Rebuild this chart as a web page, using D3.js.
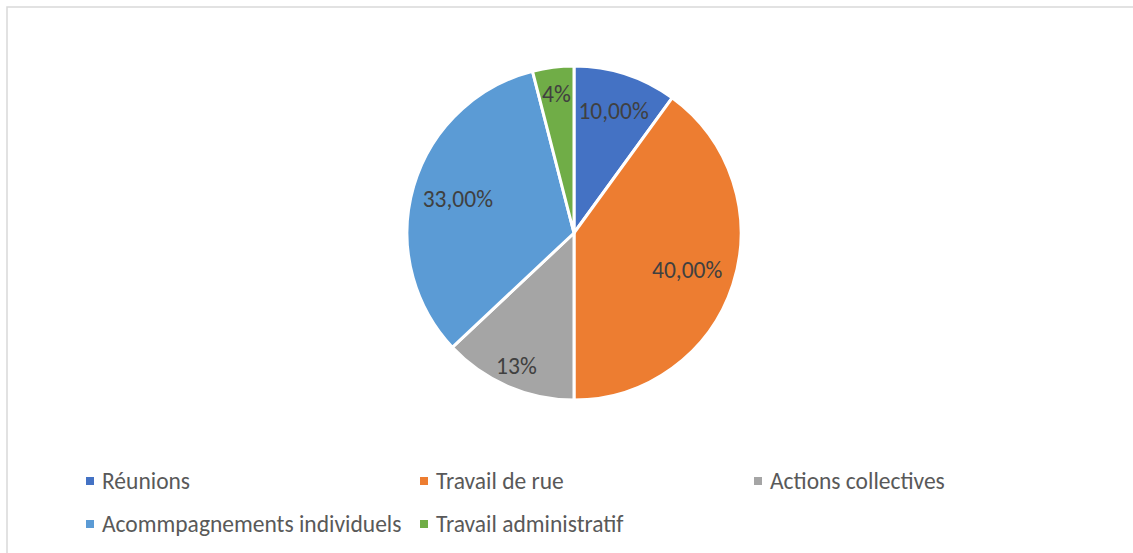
<!DOCTYPE html>
<html>
<head>
<meta charset="utf-8">
<script src="https://cdn.jsdelivr.net/npm/d3@7"></script>
<style>
  html, body { margin: 0; padding: 0; background: #fff; }
  svg { display: block; font-family: Calibri, Carlito, "Open Sans", sans-serif; }
</style>
</head>
<body>
<svg id="chart"></svg>
<script>
'use strict';

const categories = ['Réunions', 'Travail de rue', 'Actions collectives', 'Acommpagnements individuels', 'Travail administratif'];
const values = [10, 40, 13, 33, 4];
const valueLabels = ['10,00%', '40,00%', '13%', '33,00%', '4%'];
const colors = ['#4472c4', '#ed7d31', '#a5a5a5', '#5b9bd5', '#70ad47'];

const width = 1133,
    height = 553,
    cx = 574,
    cy = 233,
    radius = 167,
    fontSize = 23.5,
    // label distance from centre, per slice (Excel best fit placement)
    labelRadii = [128, 119, 145, 121, 140];

let svg = d3.select('#chart').attr('width', width).attr('height', height);

// chart area border
svg.append('rect')
    .attr('x', 7).attr('y', 7)
    .attr('width', width).attr('height', height)
    .attr('fill', '#fff')
    .attr('stroke', '#d9d9d9')
    .attr('stroke-width', 1.5);

let pie = d3.pie().sort(null).value(d => d.value);
let arc = d3.arc().innerRadius(0).outerRadius(radius);

let data = categories.map((c, i) => ({ name: c, value: values[i], label: valueLabels[i], color: colors[i] }));

let pieGroup = svg.append('g').attr('transform', `translate(${cx}, ${cy})`);

let slices = pieGroup.selectAll('.slice')
    .data(pie(data)).enter().append('g')
    .attr('class', 'slice');

slices.append('path')
    .attr('d', arc)
    .attr('fill', d => d.data.color)
    .attr('stroke', '#fff')
    .attr('stroke-width', 3)
    .attr('stroke-linejoin', 'round');

slices.append('text')
    .attr('transform', (d, i) => {
        let r = labelRadii[i];
        return `translate(${d3.arc().innerRadius(r).outerRadius(r).centroid(d)})`;
    })
    .attr('text-anchor', 'middle')
    .attr('dy', '0.35em')
    .attr('fill', '#404040')
    .attr('font-size', fontSize)
    .text(d => d.data.label);

// legend
let legendX = d3.scalePoint().domain([0, 1, 2]).range([86, 754]);
let legendY = d3.scalePoint().domain([0, 1]).range([481, 524]);

let legend = svg.append('g').attr('class', 'legend')
    .selectAll('g')
    .data(data).enter().append('g')
    .attr('transform', (d, i) => `translate(${legendX(i % 3)}, ${legendY(Math.floor(i / 3))})`);

legend.append('rect')
    .attr('x', 0).attr('y', -4)
    .attr('width', 8).attr('height', 8)
    .attr('fill', d => d.color);

legend.append('text')
    .attr('x', 16)
    .attr('dy', '0.35em')
    .attr('fill', '#595959')
    .attr('font-size', fontSize)
    .text(d => d.name);
</script>
</body>
</html>
